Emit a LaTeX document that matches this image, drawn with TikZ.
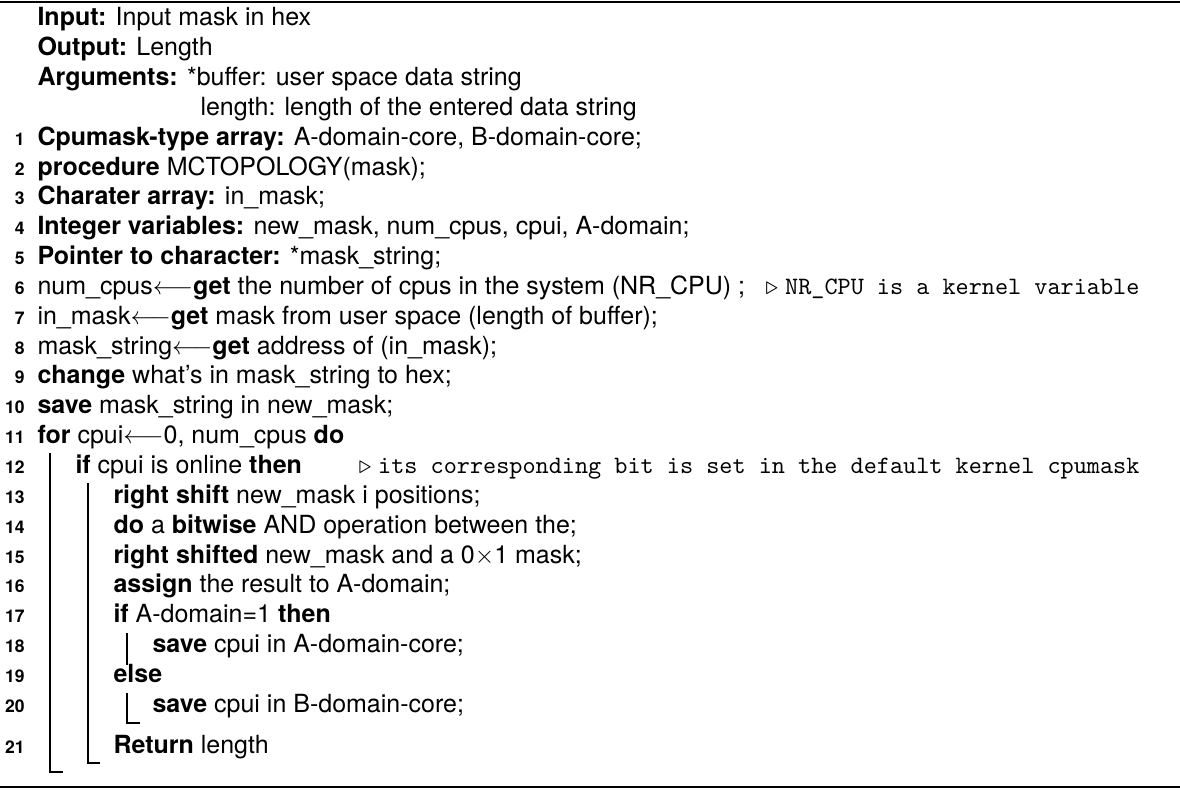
\documentclass[tikz,border=0pt]{standalone}
\usepackage{fontspec}
\setmainfont{TeX Gyre Heros}
\setmonofont{Latin Modern Mono}
\newcommand\Bl[1]{25.75+29.85*#1}
\begin{document}
\begin{tikzpicture}[x=0.4pt,y=-0.4pt,
  txt/.style={anchor=base west, inner sep=0pt, font=\fontsize{10}{12}\selectfont},
  num/.style={anchor=base east, inner sep=0pt, font=\fontsize{7}{8}\selectfont\bfseries},
  cmt/.style={anchor=base east, inner sep=0pt, font=\fontsize{10}{12}\selectfont},
  blk/.style={line width=0.45pt},
  rulebar/.style={line width=0.8pt}]
\useasboundingbox (0,0) rectangle (1180,789);
% rules
\coordinate (tl) at (0,1.5); \coordinate (tr) at (1180,1.5);
\coordinate (bl) at (0,787); \coordinate (br) at (1180,787);
\draw[rulebar] (tl) -- (tr);
\draw[rulebar] (bl) -- (br);
% header
\node[txt] (in) at (37,{\Bl{0}}) {\textbf{Input:} Input mask in hex};
\node[txt] (out) at (37,{\Bl{1}}) {\textbf{Output:} Length};
\node[txt] (arg) at (37,{\Bl{2}}) {\textbf{Arguments:} *buffer: user space data string};
\node[txt] (arg2) at (200,{\Bl{3}}) {length: length of the entered data string};
% numbered lines
\node[num] (n1) at (25,{\Bl{4}}) {1};
\node[txt] (l1) at (37,{\Bl{4}}) {\textbf{Cpumask-type array:} A-domain-core, B-domain-core;};
\node[num] (n2) at (25,{\Bl{5}}) {2};
\node[txt] (l2) at (37,{\Bl{5}}) {\textbf{procedure} MCTOPOLOGY(mask);};
\node[num] (n3) at (25,{\Bl{6}}) {3};
\node[txt] (l3) at (37,{\Bl{6}}) {\textbf{Charater array:} in\_mask;};
\node[num] (n4) at (25,{\Bl{7}}) {4};
\node[txt] (l4) at (37,{\Bl{7}}) {\textbf{Integer variables:} new\_mask, num\_cpus, cpui, A-domain;};
\node[num] (n5) at (25,{\Bl{8}}) {5};
\node[txt] (l5) at (37,{\Bl{8}}) {\textbf{Pointer to character:} *mask\_string;};
\node[num] (n6) at (25,{\Bl{9}}) {6};
\node[txt] (l6) at (37,{\Bl{9}}) {num\_cpus$\longleftarrow$\textbf{get} the number of cpus in the system (NR\_CPU) ;};
\node[cmt] (c6) at (1140,{\Bl{9}}) {$\triangleright$\ \texttt{NR\_CPU is a kernel variable}};
\node[num] (n7) at (25,{\Bl{10}}) {7};
\node[txt] (l7) at (37,{\Bl{10}}) {in\_mask$\longleftarrow$\textbf{get} mask from user space (length of buffer);};
\node[num] (n8) at (25,{\Bl{11}}) {8};
\node[txt] (l8) at (37,{\Bl{11}}) {mask\_string$\longleftarrow$\textbf{get} address of (in\_mask);};
\node[num] (n9) at (25,{\Bl{12}}) {9};
\node[txt] (l9) at (37,{\Bl{12}}) {\textbf{change} what’s in mask\_string to hex;};
\node[num] (n10) at (25,{\Bl{13}}) {10};
\node[txt] (l10) at (37,{\Bl{13}}) {\textbf{save} mask\_string in new\_mask;};
\node[num] (n11) at (25,{\Bl{14}}) {11};
\node[txt] (l11) at (37,{\Bl{14}}) {\textbf{for} cpui$\longleftarrow$0, num\_cpus \textbf{do}};
\node[num] (n12) at (25,{\Bl{15}}) {12};
\node[txt] (l12) at (75,{\Bl{15}}) {\textbf{if} cpui is online \textbf{then}};
\node[cmt] (c12) at (1140,{\Bl{15}}) {$\triangleright$\ \texttt{its corresponding bit is set in the default kernel cpumask}};
\node[num] (n13) at (25,{\Bl{16}}) {13};
\node[txt] (l13) at (113,{\Bl{16}}) {\textbf{right shift} new\_mask i positions;};
\node[num] (n14) at (25,{\Bl{17}}) {14};
\node[txt] (l14) at (113,{\Bl{17}}) {\textbf{do} a \textbf{bitwise} AND operation between the;};
\node[num] (n15) at (25,{\Bl{18}}) {15};
\node[txt] (l15) at (113,{\Bl{18}}) {\textbf{right shifted} new\_mask and a 0$\times$1 mask;};
\node[num] (n16) at (25,{\Bl{19}}) {16};
\node[txt] (l16) at (113,{\Bl{19}}) {\textbf{assign} the result to A-domain;};
\node[num] (n17) at (25,{\Bl{20}}) {17};
\node[txt] (l17) at (113,{\Bl{20}}) {\textbf{if} A-domain=1 \textbf{then}};
\node[num] (n18) at (25,{\Bl{21}}) {18};
\node[txt] (l18) at (152,{\Bl{21}}) {\textbf{save} cpui in A-domain-core;};
\node[num] (n19) at (25,{\Bl{22}}) {19};
\node[txt] (l19) at (113,{\Bl{22}}) {\textbf{else}};
\node[num] (n20) at (25,{\Bl{23}}) {20};
\node[txt] (l20) at (152,{\Bl{23}}) {\textbf{save} cpui in B-domain-core;};
\node[num] (n21) at (25,753) {21};
\node[txt] (l21) at (113,753) {\textbf{Return} length};
% block lines
\coordinate (fa) at (50,453); \coordinate (fb) at (50,772); \coordinate (fc) at (63,772);
\coordinate (ia) at (88,483); \coordinate (ib) at (88,763); \coordinate (ic) at (100,763);
\coordinate (ta) at (127,633); \coordinate (tb) at (127,665);
\coordinate (ea) at (127,693); \coordinate (eb) at (127,723); \coordinate (ec) at (140,723);
\draw[blk] (fa) -- (fb) -- (fc);
\draw[blk] (ia) -- (ib) -- (ic);
\draw[blk] (ta) -- (tb);
\draw[blk] (ea) -- (eb) -- (ec);
\end{tikzpicture}
\end{document}
